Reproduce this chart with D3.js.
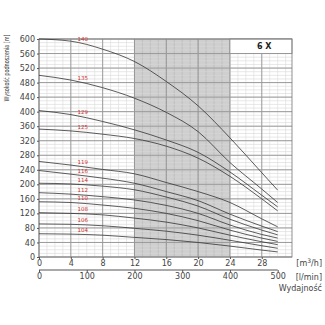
<!DOCTYPE html>
<html>
<head>
<meta charset="utf-8">
<script src="https://cdn.jsdelivr.net/npm/d3@7"></script>
<style>
  body { margin: 0; background: #fff; }
  svg text { font-family: "DejaVu Sans", sans-serif; }
</style>
</head>
<body>
<script>
// Chart data
var flow = [0, 4, 8, 12, 16, 20, 24, 28, 30];          // m3/h
var curveNames = ["140", "135", "129", "125", "119", "116", "114", "112", "110", "108", "106", "104"];
var h140 = [600, 594, 572, 538, 483, 416, 328, 232, 184];
var h135 = [500, 487, 466, 437, 398, 345, 260, 187, 150];
var h129 = [403, 392, 373, 350, 322, 288, 234, 170, 138];
var h125 = [352, 347, 338, 326, 305, 272, 222, 160, 127];
var h119 = [263, 253, 241, 229, 205, 180, 150, 105, 83];
var h116 = [238, 228, 217, 203, 180, 155, 118, 85, 70];
var h114 = [203, 201, 195, 185, 165, 140, 104, 74, 61];
var h112 = [177, 173, 166, 157, 142, 120, 88, 62, 52];
var h110 = [152, 150, 143, 134, 120, 100, 74, 52, 43];
var h108 = [122, 120, 116, 107, 96, 80, 60, 42, 34];
var h106 = [91, 90, 86, 79, 71, 60, 46, 31, 24];
var h104 = [64, 63, 60, 54, 48, 40, 30, 19, 14];
var heads = [h140, h135, h129, h125, h119, h116, h114, h112, h110, h108, h106, h104];

var yTicks = d3.range(0, 601, 40);
var xTicks = [0, 4, 8, 12, 16, 20, 24, 28];
var lminTicks = [0, 100, 200, 300, 400, 500];
var bandFrom = 12, bandTo = 24;
var modelName = "6 X";

// Chart params
var svgWidth = 325;
var svgHeight = 325;

var svg = d3.select("body")
  .append("svg")
  .attr("width", svgWidth)
  .attr("height", svgHeight);

var x = d3.scaleLinear().domain([0, 31.8]).range([39, 292]);
var y = d3.scaleLinear().domain([0, 600]).range([257, 39]);
// l/min = m3/h * 1000 / 60
var xl = d3.scaleLinear().domain([0, 31.8 * 1000 / 60]).range([39, 292]);

// shaded band
svg.append("rect")
  .attr("x", x(bandFrom))
  .attr("y", y(600))
  .attr("width", x(bandTo) - x(bandFrom))
  .attr("height", y(0) - y(600))
  .attr("fill", "#cfcfcf");

// minor grid
var grid = svg.append("g");
grid.selectAll(".vmin")
  .data(d3.range(0, 32, 1))
  .enter().append("line")
  .attr("x1", d => x(d)).attr("x2", d => x(d))
  .attr("y1", y(0)).attr("y2", y(600))
  .attr("stroke", d => (d >= bandFrom && d <= bandTo) ? "#b4b4b4" : "#dcdcdc")
  .attr("stroke-width", 0.6);
grid.selectAll(".hmin")
  .data(d3.range(0, 601, 10))
  .enter().append("line")
  .attr("x1", x(0)).attr("x2", x(31.8))
  .attr("y1", d => y(d)).attr("y2", d => y(d))
  .attr("stroke", "#d6d6d6")
  .attr("stroke-width", 0.6);

// major grid
grid.selectAll(".vmaj")
  .data(xTicks)
  .enter().append("line")
  .attr("x1", d => x(d)).attr("x2", d => x(d))
  .attr("y1", y(0)).attr("y2", y(600))
  .attr("stroke", "#8a8a8a")
  .attr("stroke-width", 0.8);
grid.selectAll(".hmaj")
  .data(yTicks)
  .enter().append("line")
  .attr("x1", x(0)).attr("x2", x(31.8))
  .attr("y1", d => y(d)).attr("y2", d => y(d))
  .attr("stroke", "#9a9a9a")
  .attr("stroke-width", 1);

// header box
svg.append("rect")
  .attr("x", x(bandTo))
  .attr("y", y(600))
  .attr("width", x(31.8) - x(bandTo))
  .attr("height", y(560) - y(600))
  .attr("fill", "#fff")
  .attr("stroke", "#8a8a8a")
  .attr("stroke-width", 0.8);
svg.append("text")
  .attr("x", x(28.3))
  .attr("y", y(580) + 3)
  .attr("text-anchor", "middle")
  .attr("font-size", 8)
  .attr("font-weight", "bold")
  .attr("fill", "#222")
  .text(modelName);

// frame
svg.append("rect")
  .attr("x", x(0)).attr("y", y(600))
  .attr("width", x(31.8) - x(0)).attr("height", y(0) - y(600))
  .attr("fill", "none")
  .attr("stroke", "#777")
  .attr("stroke-width", 0.8);

// curves
var line = d3.line()
  .x((d, i) => x(flow[i]))
  .y(d => y(d))
  .curve(d3.curveMonotoneX);

svg.selectAll(".curve")
  .data(heads)
  .enter().append("path")
  .attr("d", line)
  .attr("fill", "none")
  .attr("stroke", "#333")
  .attr("stroke-width", 0.8);

// curve labels
var labelX = 5.5;
svg.selectAll(".clabel")
  .data(heads)
  .enter().append("text")
  .attr("x", x(labelX))
  .attr("y", d => y(d3.scaleLinear().domain(flow).range(d)(labelX)) - 3)
  .attr("text-anchor", "middle")
  .attr("font-size", 5.5)
  .attr("fill", "#d0312d")
  .text((d, i) => curveNames[i]);

// y axis
var yAxis = d3.axisLeft(y).tickValues(yTicks).tickSize(2).tickPadding(2);
svg.append("g")
  .attr("transform", `translate(${x(0)},0)`)
  .call(yAxis)
  .call(g => g.select(".domain").remove())
  .call(g => g.selectAll("line").attr("stroke", "#555"))
  .call(g => g.selectAll("text").attr("font-size", 8).attr("fill", "#444")
    .attr("font-family", "DejaVu Sans"));

// x axis m3/h
var xAxis = d3.axisBottom(x).tickValues(xTicks).tickSize(2).tickPadding(1);
svg.append("g")
  .attr("transform", `translate(0,${y(0)})`)
  .call(xAxis)
  .call(g => g.select(".domain").remove())
  .call(g => g.selectAll("line").attr("stroke", "#555"))
  .call(g => g.selectAll("text").attr("font-size", 8).attr("fill", "#444")
    .attr("font-family", "DejaVu Sans"));

// x axis l/min
var xlAxis = d3.axisBottom(xl).tickValues(lminTicks).tickSize(2).tickPadding(1)
  .tickSizeOuter(0);
svg.append("g")
  .attr("transform", `translate(0,270)`)
  .call(xlAxis)
  .call(g => g.select(".domain").attr("stroke", "#555").attr("d", `M${xl(0)},0H${xl(500)}`))
  .call(g => g.selectAll("line").attr("stroke", "#555"))
  .call(g => g.selectAll("text").attr("font-size", 8).attr("fill", "#444")
    .attr("font-family", "DejaVu Sans"));

// unit labels
svg.append("text")
  .attr("x", 322).attr("y", 266)
  .attr("text-anchor", "end")
  .attr("font-size", 8).attr("fill", "#444")
  .html("[m<tspan dy='-3' font-size='6'>3</tspan><tspan dy='3'>/h]</tspan>");
svg.append("text")
  .attr("x", 322).attr("y", 280)
  .attr("text-anchor", "end")
  .attr("font-size", 8).attr("fill", "#444")
  .text("[l/min]");
svg.append("text")
  .attr("x", 322).attr("y", 291)
  .attr("text-anchor", "end")
  .attr("font-size", 8).attr("fill", "#444")
  .text("Wydajność");

// y title
svg.append("text")
  .attr("transform", "translate(9,68) rotate(-90)")
  .attr("text-anchor", "middle")
  .attr("font-family", "Liberation Sans, sans-serif")
  .attr("font-size", 7)
  .attr("textLength", 67)
  .attr("lengthAdjust", "spacingAndGlyphs")
  .attr("fill", "#333")
  .text("Wysokość podnoszenia [m]");
</script>
</body>
</html>
